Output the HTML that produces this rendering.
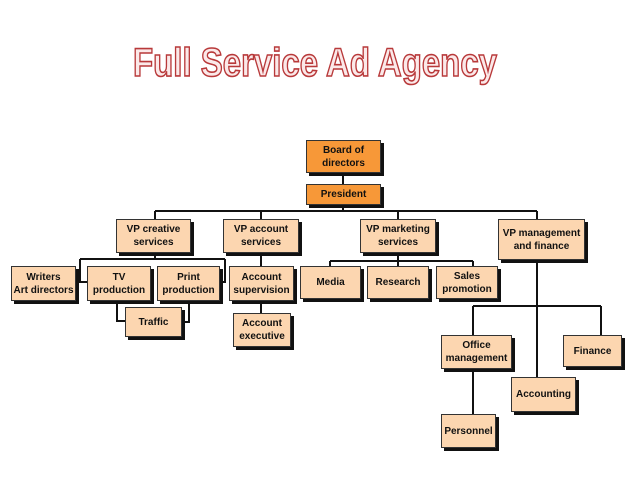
<!DOCTYPE html>
<html><head><meta charset="utf-8"><style>
body{margin:0;background:#fff;width:638px;height:479px;overflow:hidden;position:relative;font-family:"Liberation Sans",sans-serif}
.b{position:absolute;background:#fcd6b0;border:1px solid #333;box-shadow:3px 3px 0 #111;box-sizing:border-box;display:flex;align-items:center;justify-content:center;text-align:center;font-weight:bold;font-size:10px;line-height:13px;color:#111}
.o{background:#f79838}
svg{position:absolute;left:0;top:0}
</style></head><body>
<svg width="638" height="479">
<text x="315" y="76" text-anchor="middle" font-family="Liberation Sans, sans-serif" font-weight="bold" font-size="40" textLength="364" lengthAdjust="spacingAndGlyphs" fill="#fbe9e9" stroke="#b8393a" stroke-width="1.6">Full Service Ad Agency</text>
<g stroke="#111" stroke-width="2" fill="none">
<path d="M343 172V184M343 204V211M155 211H537M155 211V219M261 211V219M398 211V219M537 211V219"/>
<path d="M155 252V259M80 259H225M80 259V282M75 282H87M225 259V282H219"/>
<path d="M117 300V321H125M189 300V322H181"/>
<path d="M261 252V266M261 300V313"/>
<path d="M398 252V261M330 261H473M330 261V266M398 261V266M473 261V266"/>
<path d="M537 259V377M473 306H601M473 306V335M601 306V335M473 368V414"/>
</g>
</svg>
<div class="b o" style="left:306px;top:140px;width:75px;height:33px">Board of<br>directors</div>
<div class="b o" style="left:306px;top:184px;width:75px;height:21px">President</div>
<div class="b" style="left:116px;top:219px;width:75px;height:34px">VP creative<br>services</div>
<div class="b" style="left:223px;top:219px;width:76px;height:34px">VP account<br>services</div>
<div class="b" style="left:360px;top:219px;width:76px;height:34px">VP marketing<br>services</div>
<div class="b" style="left:498px;top:219px;width:87px;height:41px">VP management<br>and finance</div>
<div class="b" style="left:11px;top:266px;width:65px;height:35px">Writers<br>Art directors</div>
<div class="b" style="left:87px;top:266px;width:64px;height:35px">TV<br>production</div>
<div class="b" style="left:157px;top:266px;width:63px;height:35px">Print<br>production</div>
<div class="b" style="left:229px;top:266px;width:65px;height:35px">Account<br>supervision</div>
<div class="b" style="left:300px;top:266px;width:61px;height:33px">Media</div>
<div class="b" style="left:367px;top:266px;width:62px;height:33px">Research</div>
<div class="b" style="left:436px;top:266px;width:62px;height:33px">Sales<br>promotion</div>
<div class="b" style="left:125px;top:307px;width:57px;height:30px">Traffic</div>
<div class="b" style="left:233px;top:313px;width:58px;height:34px">Account<br>executive</div>
<div class="b" style="left:441px;top:335px;width:71px;height:34px">Office<br>management</div>
<div class="b" style="left:563px;top:335px;width:59px;height:32px">Finance</div>
<div class="b" style="left:511px;top:377px;width:65px;height:35px">Accounting</div>
<div class="b" style="left:441px;top:414px;width:55px;height:34px">Personnel</div>
</body></html>
